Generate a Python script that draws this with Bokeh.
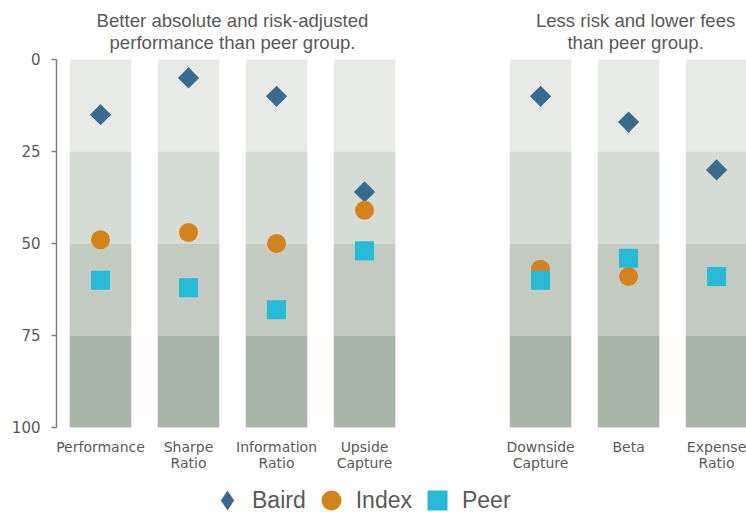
import math
from bokeh.plotting import figure
from bokeh.models import Range1d, FixedTicker, Label, Legend, LegendItem, ColumnDataSource
from bokeh.embed import file_html
from bokeh.resources import INLINE

# ---------------- data ----------------
categories = ["Performance", "Sharpe Ratio", "Information Ratio", "Upside Capture",
              "Downside Capture", "Beta", "Expense Ratio"]
tick_labels = ["Performance", "Sharpe\nRatio", "Information\nRatio", "Upside\nCapture",
               "Downside\nCapture", "Beta", "Expense\nRatio"]
groups = ["perf", "perf", "perf", "perf", "risk", "risk", "risk"]
group_order = ["perf", "risk"]
group_titles = [["Better absolute and risk-adjusted", "performance than peer group."],
                ["Less risk and lower fees", "than peer group."]]

baird = [15, 5, 10, 36, 10, 17, 30]
index_vals = [49, 47, 50, 41, 57, 59, float("nan")]
peer = [60, 62, 68, 52, 60, 54, 59]

band_edges = [0, 25, 50, 75, 100]
band_colors = ["#E8EAE7", "#D5DBD5", "#C3CAC2", "#AAB5AA"]
y_ticks = [0, 25, 50, 75, 100]

# x positions: one empty slot between the two groups
xpos = [i + group_order.index(g) for i, g in enumerate(groups)]

# ---------------- figure ----------------
# frame spans the full canvas height so titles and legend (inside the frame) are not clipped;
# the y axis is bounded to 0..100 and the category axis is fixed at y = 100.
p = figure(width=746, height=512, x_range=Range1d(-0.5, 7.34), y_range=Range1d(123.1, -16.03),
           output_backend="svg", toolbar_location=None,
           min_border_left=56, min_border_right=0, min_border_top=0, min_border_bottom=0)
p.outline_line_color = None
p.grid.visible = False
p.background_fill_color = "white"

bx, bb, bt, bc = [], [], [], []
for x in xpos:
    for k in range(len(band_colors)):
        bx.append(x)
        bb.append(band_edges[k])
        bt.append(band_edges[k + 1])
        bc.append(band_colors[k])
band_src = ColumnDataSource(dict(x=bx, bottom=bb, top=bt, color=bc))
p.vbar(x="x", bottom="bottom", top="top", width=0.7, fill_color="color",
       line_color=None, source=band_src)

BAIRD_C, INDEX_C, PEER_C = "#3B6B8C", "#D4821A", "#26BAD6"
src = ColumnDataSource(dict(x=xpos, baird=baird, index=index_vals, peer=peer))
r_b = p.scatter("x", "baird", source=src, marker="square", angle=math.pi / 4, size=15,
                fill_color=BAIRD_C, line_color=None)
r_i = p.scatter("x", "index", source=src, marker="circle", size=19,
                fill_color=INDEX_C, line_color=None)
r_p = p.scatter("x", "peer", source=src, marker="square", size=19,
                fill_color=PEER_C, line_color=None)
# legend-only diamond (legend glyphs ignore marker angle); its single point is NaN, so not drawn
r_b_leg = p.scatter(x=[float("nan")], y=[float("nan")], marker="diamond",
                    fill_color=BAIRD_C, line_color=None)

# ---------------- axes ----------------
p.yaxis.ticker = FixedTicker(ticks=y_ticks)
p.yaxis.bounds = (0, 100)
p.yaxis.major_label_text_font = "DejaVu Sans"
p.yaxis.major_label_text_font_size = "15px"
p.yaxis.major_label_text_color = "#595959"
p.yaxis.axis_line_color = "#7F7F7F"
p.yaxis.axis_line_width = 1.5
p.yaxis.major_tick_line_color = "#7F7F7F"
p.yaxis.major_tick_line_width = 1.5
p.yaxis.major_tick_out = 5
p.yaxis.major_tick_in = 0
p.yaxis.minor_tick_line_color = None
p.yaxis.major_label_standoff = 11

p.xaxis.fixed_location = 100
p.xaxis.ticker = FixedTicker(ticks=xpos)
p.xaxis.major_label_overrides = {x: lab for x, lab in zip(xpos, tick_labels)}
p.xaxis.major_label_text_font = "DejaVu Sans"
p.xaxis.major_label_text_font_size = "14px"
p.xaxis.major_label_text_color = "#595959"
p.xaxis.major_label_text_line_height = 0.98
p.xaxis.axis_line_color = None
p.xaxis.major_tick_line_color = None
p.xaxis.minor_tick_line_color = None
p.xaxis.major_label_standoff = 6

# ---------------- group titles ----------------
title_x = [1.5, 6.08]
title_y = [-10.52, -4.57]
for gi, lines in enumerate(group_titles):
    for li, line in enumerate(lines):
        p.add_layout(Label(x=title_x[gi], y=title_y[li], text=line, text_align="center",
                           text_baseline="middle", text_font="Liberation Sans",
                           text_font_size="18.6px", text_color="#595959"))

# ---------------- legend ----------------
legend = Legend(items=[LegendItem(label="Baird", renderers=[r_b_leg]),
                       LegendItem(label="Index", renderers=[r_i]),
                       LegendItem(label="Peer", renderers=[r_p])],
                location=(146, -13), orientation="horizontal",
                glyph_width=50, glyph_height=50, label_standoff=0, spacing=0,
                padding=0, margin=0, border_line_color=None, background_fill_alpha=0,
                label_text_font="Liberation Sans", label_text_font_size="23px",
                label_text_color="#595959")
p.add_layout(legend)

open("out.html", "w").write(file_html(p, INLINE))
